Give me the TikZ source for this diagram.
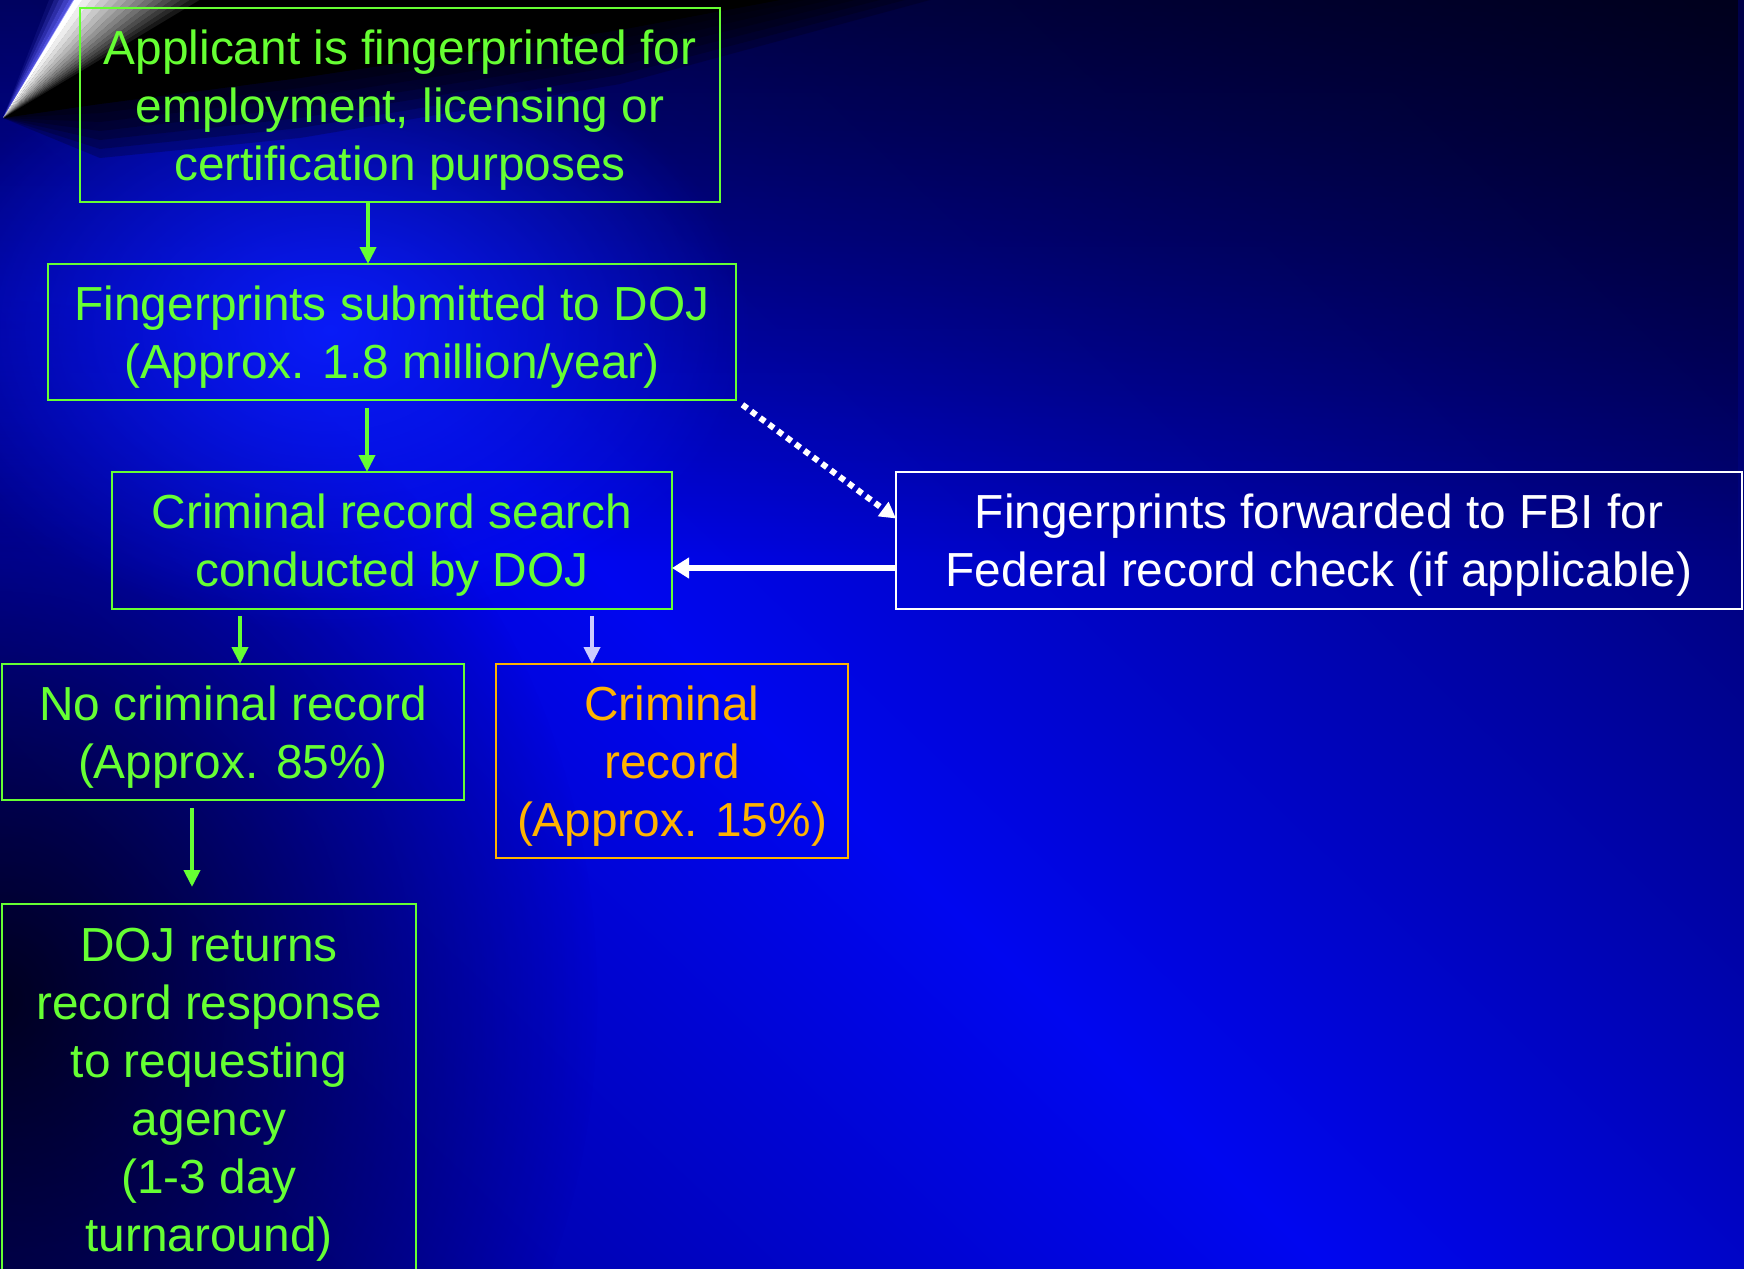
\documentclass[tikz,border=0pt]{standalone}
\usepackage{fontspec}
\setmainfont{Liberation Sans}
\usepackage{tikz}
\usetikzlibrary{arrows.meta, positioning, fadings}
\usepackage{xcolor}

\definecolor{boxgreen}{HTML}{66FF33}
\definecolor{boxorange}{HTML}{FFB300}
\definecolor{lavender}{HTML}{CCCCFF}
\definecolor{bgdeep}{RGB}{0,0,130}
\definecolor{bglow}{RGB}{0,0,140}
\definecolor{bgridge}{RGB}{0,6,240}
\definecolor{bgtop}{RGB}{0,0,72}
\definecolor{glowblue}{RGB}{10,30,255}

\pgfdeclarehorizontalshading{bgshade}{100bp}{color(0bp)=(bgdeep); color(28bp)=(bglow); color(47bp)=(bgridge); color(72bp)=(bgtop); color(100bp)=(bgtop)}
\tikzfading[name=glowfade, inner color=transparent!0, outer color=transparent!100]
\tikzfading[name=topfade, top color=transparent!0, bottom color=transparent!100]

\begin{document}
\begin{tikzpicture}[x=1pt, y=-1pt,
greenbox/.style={rectangle, draw=boxgreen, line width=2.5pt, text=boxgreen, align=center, inner sep=0pt, outer sep=0pt, font=\fontsize{47.8}{58}\selectfont, text depth=-4pt},
whitebox/.style={greenbox, draw=white, text=white},
orangebox/.style={greenbox, draw=boxorange, text=boxorange},
greenarrow/.style={draw=boxgreen, line width=4pt, -{Triangle[length=17pt,width=16pt]}},
lavarrow/.style={greenarrow, draw=lavender},
backarrow/.style={draw=white, line width=6pt, -{Triangle[length=17pt,width=20pt]}},
dotarrow/.style={draw=white, line width=6pt, dash pattern=on 6pt off 5pt, -{Triangle[length=16pt,width=17pt]}},
]
\useasboundingbox (0,0) rectangle (1744,1268);
%Background
\begin{scope}
\clip (0,0) rectangle (1744,1268);
\shade[shading=bgshade, shading angle=46.2] (-328,-566) rectangle (2072,1834);
\fill[black, opacity=0.6, path fading=topfade] (0,0) rectangle (1744,560);
\fill[black, opacity=0.8, path fading=glowfade] (0,1000) ellipse (600 and 700);
\fill[glowblue, opacity=0.9, path fading=glowfade] (330,330) ellipse (420 and 300);
\fill[black] (3,118) -- (73,0) -- (780,0) -- (620,30) -- (300,78) -- (100,104) -- cycle;
\foreach \k in {1,...,6}
  \fill[black, opacity=0.22] (3,118) -- (73,0) -- (780+25*\k,0) -- (620,30+9*\k) -- (300,78+10*\k) -- (100,104+9*\k) -- cycle;
\foreach \i in {0,...,13}{
  \pgfmathtruncatemacro\lvl{100-7*\i}
  \fill[white!\lvl!black] (3,118) -- (73+9*\i,0) -- (82.5+9*\i,0) -- cycle;
}
\foreach \i in {1,...,5}
  \fill[blue!60!white, opacity=0.95-0.17*\i] (3,118) -- (74-5*\i+5,0) -- (74-5*\i,0) -- cycle;
\end{scope}

%Nodes
\node[greenbox, minimum width=640, minimum height=194] (APP) at (400,105) {Applicant is fingerprinted for\\employment, licensing or\\certification purposes};
\node[greenbox, minimum width=688, minimum height=136] (SUB) at (392,332) {Fingerprints submitted to DOJ\\(Approx. 1.8 million/year)};
\node[greenbox, minimum width=560, minimum height=137] (SRCH) at (392,540.5) {Criminal record search\\conducted by DOJ};
\node[whitebox, minimum width=846, minimum height=137] (FBI) at (1319,540.5) {Fingerprints forwarded to FBI for\\Federal record check (if applicable)};
\node[greenbox, minimum width=462, minimum height=136] (NOREC) at (233,732) {No criminal record\\(Approx. 85\%)};
\node[orangebox, minimum width=352, minimum height=194] (REC) at (672,761) {Criminal\\record\\(Approx. 15\%)};
\node[greenbox, minimum width=414, minimum height=372] (RET) at (209,1090) {DOJ returns\\record response\\to requesting\\agency\\(1-3 day\\turnaround)};

%Arrows
\path ([xshift=-32pt]APP.south) edge[greenarrow] ([xshift=-24pt]SUB.north)
  ([xshift=-25pt]SUB.south) edge[greenarrow, shorten <=8pt] ([xshift=-25pt]SRCH.north)
  ([xshift=-152pt]SRCH.south) edge[greenarrow, shorten <=7pt] ([xshift=7pt]NOREC.north)
  ([xshift=200pt]SRCH.south) edge[lavarrow, shorten <=7pt] ([xshift=-80pt]REC.north)
  ([xshift=-41pt]NOREC.south) edge[greenarrow, shorten <=8pt, shorten >=17pt] ([xshift=-17pt]RET.north);
\draw[dotarrow, shorten <=8pt] (SUB.south east) -- ([yshift=22pt]FBI.west);
\draw[backarrow] ([yshift=-27.5pt]FBI.west) -- ([yshift=-27.5pt]SRCH.east);
\end{tikzpicture}
\end{document}
